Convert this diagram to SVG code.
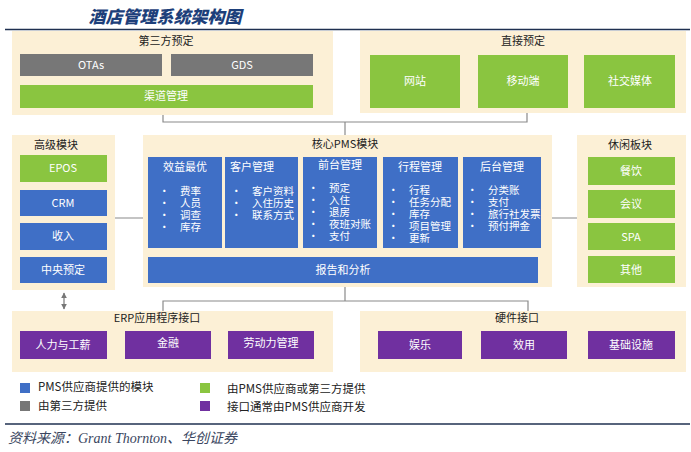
<svg xmlns="http://www.w3.org/2000/svg" width="691" height="452" viewBox="0 0 691 452">
<style>
text{font-family:"Noto Sans CJK SC",sans-serif;font-size:11px;}
.p{fill:#fcf0d6}
.b{fill:#3f6fc6}.g{fill:#8ac540}.gr{fill:#777}.pu{fill:#7030a0}
.w{fill:#fff;text-anchor:middle}
.wl{fill:#fff}
.h{fill:#222;text-anchor:middle}
.l{fill:#222;font-size:11.5px}
.c{stroke:#8a8a8a;stroke-width:1.2;fill:none}
.it{font-size:10.5px}
</style>
<defs><marker id="a" viewBox="0 0 10 10" refX="9" refY="5" markerWidth="5" markerHeight="5" orient="auto-start-reverse"><path d="M0,0L10,5L0,10z" fill="#777"/></marker></defs>
<rect width="691" height="452" fill="#fff"/>
<text x="165" y="23" text-anchor="middle" style="font-family:'Noto Sans CJK SC',sans-serif;font-size:17px;font-weight:900;fill:#1d3f7a;font-style:italic">酒店管理系统架构图</text>
<line x1="5" y1="29.5" x2="690" y2="29.5" stroke="#1f3050" stroke-width="1.5"/>
<g id="connectors">
<path class="c" d="M163,115V122H527V112"/>
<path class="c" d="M345,122V135"/>
<path class="c" d="M115,218H143M552,218H577"/>
<path class="c" d="M345,287V301M163,311V301H528V311"/>
<line x1="64" y1="293" x2="64" y2="309" stroke="#777" stroke-width="1.2" marker-start="url(#a)" marker-end="url(#a)"/>
</g>
<g id="third">
<rect class="p" x="12" y="31" width="321" height="84"/>
<text class="h" x="166" y="45">第三方预定</text>
<rect class="gr" x="20" y="54" width="142" height="22"/><text class="w" x="91" y="69">OTAs</text>
<rect class="gr" x="171" y="54" width="142" height="22"/><text class="w" x="242" y="69">GDS</text>
<rect class="g" x="20" y="85" width="293" height="23"/><text class="w" x="166" y="100">渠道管理</text>
</g>
<g id="direct">
<rect class="p" x="360" y="31" width="326" height="82"/>
<text class="h" x="523" y="45">直接预定</text>
<rect class="g" x="370" y="55" width="90" height="53"/><text class="w" x="415" y="85">网站</text>
<rect class="g" x="478" y="55" width="90" height="53"/><text class="w" x="523" y="85">移动端</text>
<rect class="g" x="584" y="55" width="91" height="53"/><text class="w" x="630" y="85">社交媒体</text>
</g>
<g id="advanced">
<rect class="p" x="12" y="135" width="103" height="155"/>
<text class="h" x="56" y="149">高级模块</text>
<rect class="g" x="20" y="155" width="87" height="27"/><text class="w" x="63" y="172">EPOS</text>
<rect class="b" x="20" y="190" width="87" height="26"/><text class="w" x="63" y="207">CRM</text>
<rect class="b" x="20" y="223" width="87" height="27"/><text class="w" x="63" y="240">收入</text>
<rect class="b" x="20" y="257" width="87" height="26"/><text class="w" x="63" y="274">中央预定</text>
</g>
<g id="core">
<rect class="p" x="143" y="135" width="409" height="152"/>
<text class="h" x="345" y="148">核心PMS模块</text>
<rect class="b" x="148" y="157" width="74" height="91"/>
<text class="w" x="185" y="171">效益最优</text>
<text class="wl it" x="159" y="195">•　费率</text>
<text class="wl it" x="159" y="207">•　人员</text>
<text class="wl it" x="159" y="219">•　调查</text>
<text class="wl it" x="159" y="231">•　库存</text>
<rect class="b" x="225" y="157" width="73" height="91"/>
<text class="wl" x="230" y="171">客户管理</text>
<text class="wl it" x="231" y="195">•　客户资料</text>
<text class="wl it" x="231" y="207">•　入住历史</text>
<text class="wl it" x="231" y="219">•　联系方式</text>
<rect class="b" x="303" y="157" width="74" height="91"/>
<text class="w" x="340" y="169">前台管理</text>
<text class="wl it" x="308" y="192">•　预定</text>
<text class="wl it" x="308" y="204">•　入住</text>
<text class="wl it" x="308" y="216">•　退房</text>
<text class="wl it" x="308" y="228">•　夜班对账</text>
<text class="wl it" x="308" y="240">•　支付</text>
<rect class="b" x="383" y="157" width="75" height="91"/>
<text class="w" x="420" y="171">行程管理</text>
<text class="wl it" x="388" y="194">•　行程</text>
<text class="wl it" x="388" y="206">•　任务分配</text>
<text class="wl it" x="388" y="218">•　库存</text>
<text class="wl it" x="388" y="230">•　项目管理</text>
<text class="wl it" x="388" y="242">•　更新</text>
<rect class="b" x="463" y="157" width="78" height="91"/>
<text class="w" x="502" y="171">后台管理</text>
<text class="wl it" x="467" y="194">•　分类账</text>
<text class="wl it" x="467" y="206">•　支付</text>
<text class="wl it" x="467" y="218">•　旅行社发票</text>
<text class="wl it" x="467" y="230">•　预付押金</text>
<rect class="b" x="148" y="257" width="390" height="26"/><text class="w" x="343" y="274">报告和分析</text>
</g>
<g id="leisure">
<rect class="p" x="577" y="135" width="109" height="152"/>
<text class="h" x="630" y="149">休闲板块</text>
<rect class="g" x="588" y="157" width="87" height="28"/><text class="w" x="631" y="175">餐饮</text>
<rect class="g" x="588" y="190" width="87" height="28"/><text class="w" x="631" y="208">会议</text>
<rect class="g" x="588" y="223" width="87" height="27"/><text class="w" x="631" y="241">SPA</text>
<rect class="g" x="588" y="256" width="87" height="27"/><text class="w" x="631" y="274">其他</text>
</g>
<g id="erp">
<rect class="p" x="12" y="311" width="321" height="61"/>
<text class="h" x="157" y="322">ERP应用程序接口</text>
<rect class="pu" x="20" y="331" width="87" height="28"/><text class="w" x="63" y="349">人力与工薪</text>
<rect class="pu" x="125" y="331" width="86" height="28"/><text class="w" x="168" y="347">金融</text>
<rect class="pu" x="228" y="331" width="86" height="28"/><text class="w" x="271" y="347">劳动力管理</text>
</g>
<g id="hardware">
<rect class="p" x="360" y="311" width="326" height="61"/>
<text class="h" x="517" y="322">硬件接口</text>
<rect class="pu" x="378" y="331" width="84" height="28"/><text class="w" x="420" y="349">娱乐</text>
<rect class="pu" x="481" y="331" width="86" height="28"/><text class="w" x="524" y="349">效用</text>
<rect class="pu" x="588" y="331" width="87" height="28"/><text class="w" x="631" y="349">基础设施</text>
</g>
<g id="legend">
<rect class="b" x="20" y="383" width="10" height="10"/><text class="l" x="38" y="391">PMS供应商提供的模块</text>
<rect class="gr" x="20" y="401" width="10" height="10"/><text class="l" x="38" y="410">由第三方提供</text>
<rect class="g" x="200" y="383" width="10" height="10"/><text class="l" x="227" y="393">由PMS供应商或第三方提供</text>
<rect class="pu" x="200" y="401" width="10" height="10"/><text class="l" x="227" y="411">接口通常由PMS供应商开发</text>
</g>
<line x1="5" y1="424" x2="690" y2="424" stroke="#1f3050" stroke-width="1.5"/>
<text x="8" y="443" style="font-family:'Liberation Serif','Noto Sans CJK SC',serif;font-style:italic;font-size:14px;fill:#3a4660">资料来源：Grant Thornton、华创证券</text>
</svg>
